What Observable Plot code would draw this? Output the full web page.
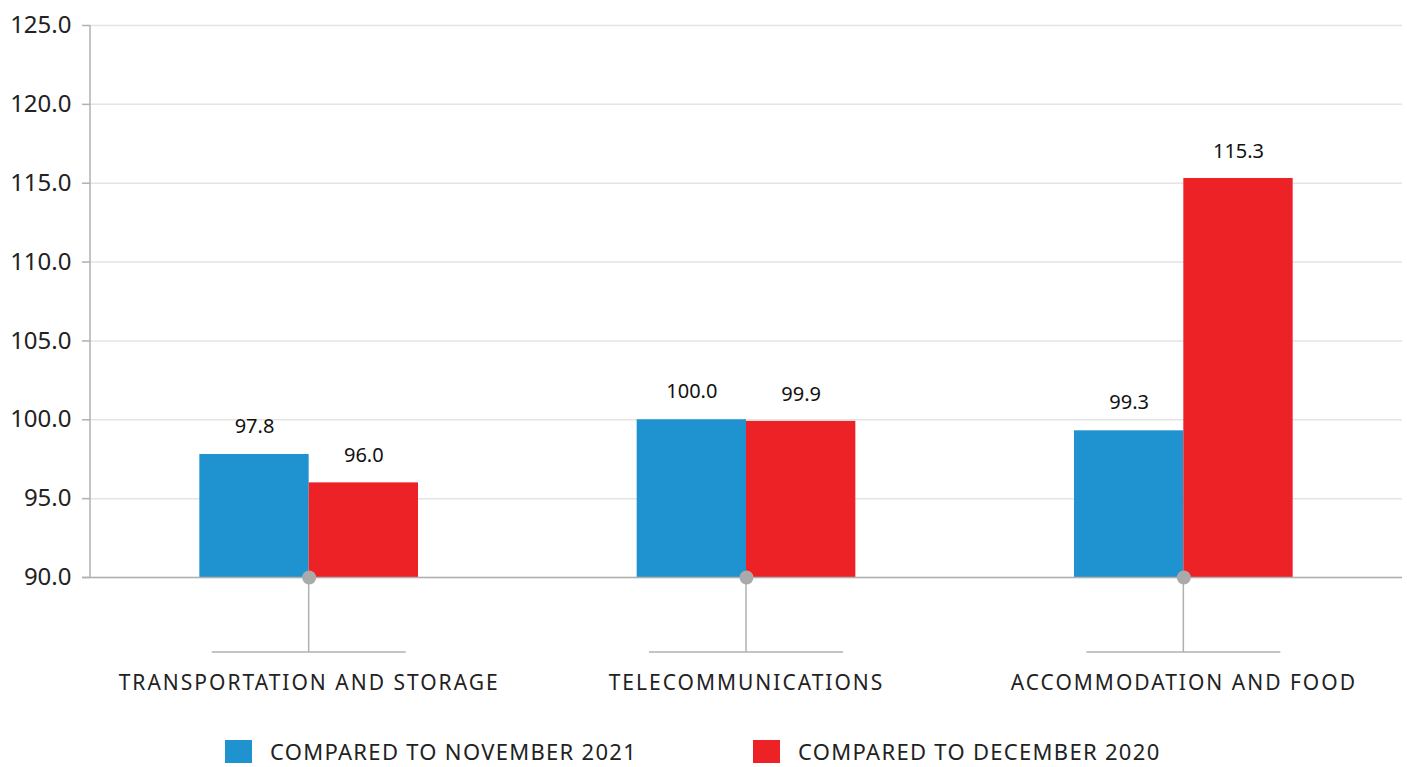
<!DOCTYPE html>
<html>
<head>
<meta charset="utf-8">
<script src="https://cdn.jsdelivr.net/npm/d3@7"></script>
<script src="https://cdn.jsdelivr.net/npm/@observablehq/plot@0.6"></script>
<style>
  html, body { margin: 0; padding: 0; background: #fff; }
  body { width: 1407px; height: 767px; overflow: hidden; font-family: "Noto Sans", "Open Sans", sans-serif; }
  #legend { display: flex; align-items: center; height: 24px; margin-top: 24px; font-size: 22px; line-height: 22px; letter-spacing: 1.3px; color: #222; }
  .item { display: flex; align-items: center; }
  .item span { display: block; height: 22px; line-height: 22px; }
  .sw { width: 27px; height: 23px; margin-right: 18px; }
</style>
</head>
<body>
<div id="chart"></div>
<div id="legend"></div>
<script>
const categories = ["TRANSPORTATION AND STORAGE", "TELECOMMUNICATIONS", "ACCOMMODATION AND FOOD"];
const seriesNames = ["COMPARED TO NOVEMBER 2021", "COMPARED TO DECEMBER 2020"];
const novValues = [97.8, 100.0, 99.3];
const decValues = [96.0, 99.9, 115.3];
const yTicks = [90, 95, 100, 105, 110, 115, 120, 125];
const colors = ["#1e93d0", "#ed2226"];

const W = 1407, H = 715, mL = 90, mR = 5, mT = 25, mB = 138;
const padInner = 0.5, padOuter = 0.25;
const step = (W - mL - mR) / (categories.length - padInner + 2 * padOuter);
const bw = step * (1 - padInner);
const half = bw / 2;

const rowsNov = categories.map((c, i) => ({cat: c, value: novValues[i]}));
const rowsDec = categories.map((c, i) => ({cat: c, value: decValues[i]}));

const stems = (index, scales, values, dims) => {
  const x = scales.x, y = scales.y;
  const b = typeof x.bandwidth === "function" ? x.bandwidth() : x.bandwidth;
  const y0 = y(90);
  const g = d3.create("svg:g").attr("stroke", "#b0b0b0").attr("stroke-width", 1.5).attr("fill", "none");
  g.append("line").attr("x1", dims.marginLeft).attr("x2", dims.marginLeft)
    .attr("y1", dims.marginTop).attr("y2", dims.height - dims.marginBottom);
  for (const c of categories) {
    const cx = x(c) + b / 2;
    g.append("line").attr("x1", cx).attr("x2", cx).attr("y1", y0).attr("y2", y0 + 75);
    g.append("line").attr("x1", cx - 97).attr("x2", cx + 97).attr("y1", y0 + 75).attr("y2", y0 + 75);
  }
  return g.node();
};

const chart = Plot.plot({
  width: W, height: H,
  marginLeft: mL, marginRight: mR, marginTop: mT, marginBottom: mB,
  style: {fontFamily: '"Noto Sans", "Open Sans", sans-serif', background: "#fff"},
  x: {domain: categories, paddingInner: padInner, paddingOuter: padOuter, round: false, axis: null},
  y: {domain: [90, 125], label: null},
  marks: [
    Plot.gridY(yTicks, {stroke: "#e4e4e4", strokeOpacity: 1, strokeWidth: 1.5}),
    Plot.axisY(yTicks, {tickFormat: d => d.toFixed(1), tickSize: 8, tickPadding: 11, fontSize: 24, stroke: "#b0b0b0", strokeWidth: 1.5, fill: "#222", label: null}),
    Plot.barY(rowsNov, {x: "cat", y1: 90, y2: "value", fill: colors[0], insetLeft: 0, insetRight: half}),
    Plot.barY(rowsDec, {x: "cat", y1: 90, y2: "value", fill: colors[1], insetLeft: half, insetRight: 0}),
    Plot.ruleY([90], {stroke: "#b0b0b0", strokeWidth: 1.5, insetLeft: -8}),
    stems,
    Plot.dot(categories, {x: d => d, y: 90, r: 7, fill: "#aaaaaa", stroke: "none"}),
    Plot.text(rowsNov, {x: "cat", y: "value", dx: -half / 2, dy: -28, text: d => d.value.toFixed(1), fontSize: 20, fill: "#111"}),
    Plot.text(rowsDec, {x: "cat", y: "value", dx: half / 2, dy: -27, text: d => d.value.toFixed(1), fontSize: 20, fill: "#111"}),
    Plot.text(categories, {x: d => d, y: 90, dy: 106, text: d => d, fontSize: 21, fill: "#222"})
  ]
});
d3.select(chart).selectAll("text").filter(function() { return categories.includes(this.textContent); })
  .style("letter-spacing", "2px");
document.getElementById("chart").appendChild(chart);

const legend = d3.select("#legend");
seriesNames.forEach((s, i) => {
  const it = legend.append("div").attr("class", "item").style("margin-left", i === 0 ? "225px" : "116px");
  it.append("div").attr("class", "sw").style("background", colors[i]);
  it.append("span").text(s);
});
</script>
</body>
</html>
